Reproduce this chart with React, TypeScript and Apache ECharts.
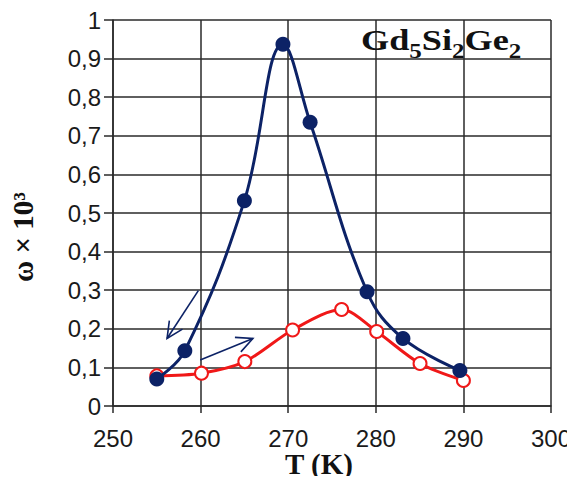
import React, { useEffect, useRef } from "react";
import * as echarts from "echarts";

const heatingT = [255, 258.2, 265, 269.4, 272.5, 279, 283.1, 289.6];
const heatingW = [0.07, 0.143, 0.532, 0.937, 0.735, 0.296, 0.175, 0.092];
const coolingT = [255, 260.1, 265.05, 270.5, 276.1, 280.1, 285.05, 290];
const coolingW = [0.078, 0.085, 0.115, 0.197, 0.25, 0.193, 0.11, 0.066];
// arrows: [xFrom, yFrom, xTo, yTo]
const arrows = [
  [259.74, 0.299, 256.17, 0.175],
  [259.95, 0.119, 265.97, 0.175],
];
const xTicks = [250, 260, 270, 280, 290, 300];
const yTicks = [0, 0.1, 0.2, 0.3, 0.4, 0.5, 0.6, 0.7, 0.8, 0.9, 1];

const NAVY = "#0c2266";
const RED = "#f01818";
const GRID = "#2a2a2a";

export default function App() {
  const ref = useRef<HTMLDivElement>(null);
  useEffect(() => {
    if (!ref.current) return;
    const chart = echarts.init(ref.current, null, { renderer: "svg" });
    chart.setOption({
      animation: false,
      backgroundColor: "#ffffff",
      grid: {
        left: 113,
        right: 24,
        top: 20,
        bottom: 78,
        containLabel: false,
        outerBoundsMode: "none",
      },
      xAxis: {
        type: "value",
        min: xTicks[0],
        max: xTicks[xTicks.length - 1],
        interval: 10,
        name: "T (K)",
        nameLocation: "middle",
        nameGap: 43,
        nameMoveOverlap: false,
        nameTextStyle: {
          fontFamily: "Liberation Serif",
          fontWeight: "bold",
          fontSize: 29,
          color: "#111",
          padding: [0, 26, 0, 0],
        },
        axisLine: { show: true, lineStyle: { color: GRID, width: 1.5 } },
        axisTick: { show: true, length: 7, lineStyle: { color: GRID, width: 1.5 } },
        axisLabel: {
          fontFamily: "Liberation Sans",
          fontSize: 24,
          lineHeight: 22,
          color: "#1a1a1a",
          margin: 21,
        },
        splitLine: { show: true, lineStyle: { color: GRID, width: 1.5 } },
      },
      yAxis: {
        type: "value",
        min: 0,
        max: 1,
        interval: 0.1,
        name: "ω × 10³",
        nameLocation: "middle",
        nameRotate: 90,
        nameGap: 76,
        nameMoveOverlap: false,
        nameTextStyle: {
          fontFamily: "Liberation Serif",
          fontWeight: "bold",
          fontSize: 29,
          color: "#111",
          padding: [0, 48, 0, 0],
        },
        axisLine: { show: true, lineStyle: { color: GRID, width: 1.5 } },
        axisTick: { show: true, length: 9, lineStyle: { color: GRID, width: 1.5 } },
        axisLabel: {
          fontFamily: "Liberation Sans",
          fontSize: 24,
          color: "#1a1a1a",
          margin: 12,
          formatter: (v: number) => {
            const t = yTicks.find((y) => Math.abs(y - v) < 1e-6);
            return String(t !== undefined ? +t.toFixed(1) : v).replace(".", ",");
          },
        },
        splitLine: { show: true, lineStyle: { color: GRID, width: 1.5 } },
      },
      graphic: [
        {
          type: "text",
          x: 361,
          y: 26,
          scaleX: 1.25,
          z: 10,
          style: {
            text: "{a|Gd}{s|5}{a|Si}{s|2}{a|Ge}{s|2}",
            verticalAlign: "top",
            rich: {
              a: {
                fontFamily: "Liberation Serif",
                fontWeight: "bold",
                fontSize: 29,
                lineHeight: 29,
                verticalAlign: "top",
                fill: "#111",
              },
              s: {
                fontFamily: "Liberation Serif",
                fontWeight: "bold",
                fontSize: 20,
                lineHeight: 35,
                verticalAlign: "bottom",
                fill: "#111",
              },
            },
          },
        },
      ],
      series: [
        {
          type: "line",
          name: "cooling",
          data: coolingT.map((t, i) => [t, coolingW[i]]),
          smooth: 0.3,
          symbol: "emptyCircle",
          symbolSize: 13,
          lineStyle: { color: RED, width: 3 },
          itemStyle: { color: RED, borderColor: RED, borderWidth: 2.6 },
          z: 2,
        },
        {
          type: "line",
          name: "heating",
          data: heatingT.map((t, i) => [t, heatingW[i]]),
          smooth: 0.4,
          symbol: "circle",
          symbolSize: 15,
          lineStyle: { color: NAVY, width: 3 },
          itemStyle: { color: NAVY },
          z: 3,
        },
        {
          type: "custom",
          name: "arrows",
          data: arrows,
          encode: { x: [0, 2], y: [1, 3] },
          z: 4,
          renderItem: (params: any, api: any) => {
            const p1 = api.coord([api.value(0), api.value(1)]);
            const p2 = api.coord([api.value(2), api.value(3)]);
            const ang = Math.atan2(p2[1] - p1[1], p2[0] - p1[0]);
            const L = 18;
            const spread = 0.45;
            const a1 = [p2[0] - L * Math.cos(ang - spread), p2[1] - L * Math.sin(ang - spread)];
            const a2 = [p2[0] - L * Math.cos(ang + spread), p2[1] - L * Math.sin(ang + spread)];
            const st = { stroke: NAVY, lineWidth: 1.6, fill: "none" };
            return {
              type: "group",
              children: [
                { type: "line", shape: { x1: p1[0], y1: p1[1], x2: p2[0], y2: p2[1] }, style: st },
                { type: "polyline", shape: { points: [a1, p2, a2] }, style: st },
              ],
            };
          },
        },
      ],
    });
    return () => chart.dispose();
  }, []);
  return <div ref={ref} style={{ width: 575, height: 484, margin: -8 }} />;
}
